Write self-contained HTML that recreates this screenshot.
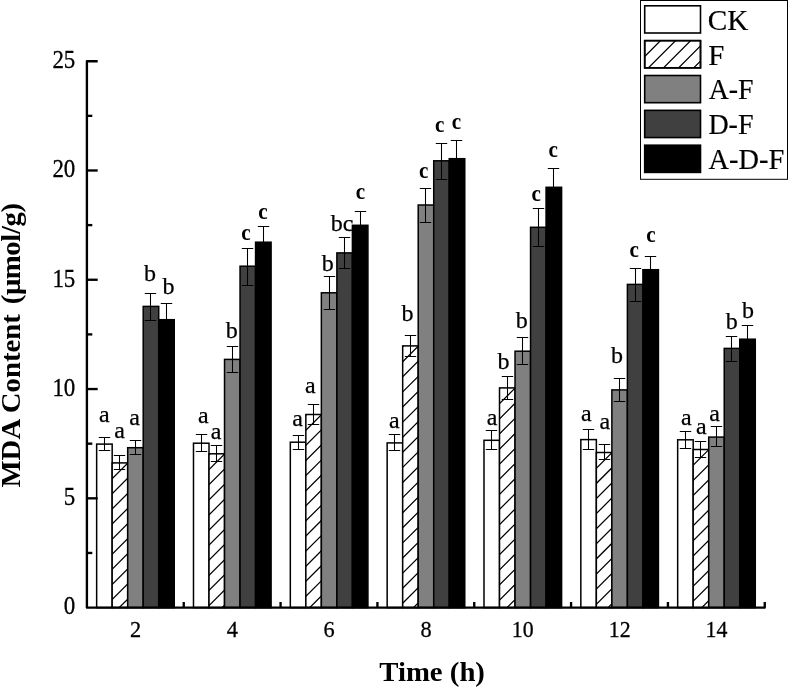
<!DOCTYPE html>
<html lang="en">
<head>
<meta charset="utf-8">
<title>MDA Content vs Time</title>
<style>
html,body{margin:0;padding:0;background:#fff;}
body{width:788px;height:687px;overflow:hidden;}
svg{display:block;will-change:transform;}
text{font-family:"Liberation Serif","Times New Roman",serif;fill:#000;}
.tk{font-size:24px;stroke:#000;stroke-width:0.3px;}
.lt{font-size:24px;stroke:#000;stroke-width:0.25px;}
.lg{font-size:29px;stroke:#000;stroke-width:0.2px;}
.ti{font-size:27.4px;font-weight:bold;}
.b{font-weight:bold;stroke:none;font-size:23.5px;}
</style>
</head>
<body>
<svg width="788" height="687" viewBox="0 0 788 687">
<rect x="0" y="0" width="788" height="687" fill="#fff"/>
<g stroke="#000" stroke-width="1.5">
<rect x="96.65" y="444.10" width="15.52" height="163.50" fill="#ffffff"/>
<rect x="112.17" y="462.90" width="15.52" height="144.70" fill="#ffffff"/>
<rect x="127.69" y="447.70" width="15.52" height="159.90" fill="#808080"/>
<rect x="143.21" y="306.40" width="15.52" height="301.20" fill="#404040"/>
<rect x="158.73" y="319.70" width="15.52" height="287.90" fill="#000000"/>
<rect x="193.49" y="443.20" width="15.52" height="164.40" fill="#ffffff"/>
<rect x="209.01" y="453.80" width="15.52" height="153.80" fill="#ffffff"/>
<rect x="224.53" y="359.40" width="15.52" height="248.20" fill="#808080"/>
<rect x="240.05" y="266.20" width="15.52" height="341.40" fill="#404040"/>
<rect x="255.57" y="242.20" width="15.52" height="365.40" fill="#000000"/>
<rect x="290.32" y="442.20" width="15.52" height="165.40" fill="#ffffff"/>
<rect x="305.84" y="414.50" width="15.52" height="193.10" fill="#ffffff"/>
<rect x="321.36" y="292.80" width="15.52" height="314.80" fill="#808080"/>
<rect x="336.88" y="252.90" width="15.52" height="354.70" fill="#404040"/>
<rect x="352.40" y="225.30" width="15.52" height="382.30" fill="#000000"/>
<rect x="387.16" y="442.90" width="15.52" height="164.70" fill="#ffffff"/>
<rect x="402.68" y="345.90" width="15.52" height="261.70" fill="#ffffff"/>
<rect x="418.20" y="205.00" width="15.52" height="402.60" fill="#808080"/>
<rect x="433.72" y="160.80" width="15.52" height="446.80" fill="#404040"/>
<rect x="449.24" y="158.70" width="15.52" height="448.90" fill="#000000"/>
<rect x="483.99" y="440.30" width="15.52" height="167.30" fill="#ffffff"/>
<rect x="499.51" y="387.90" width="15.52" height="219.70" fill="#ffffff"/>
<rect x="515.03" y="351.20" width="15.52" height="256.40" fill="#808080"/>
<rect x="530.55" y="227.30" width="15.52" height="380.30" fill="#404040"/>
<rect x="546.07" y="187.30" width="15.52" height="420.30" fill="#000000"/>
<rect x="580.83" y="439.60" width="15.52" height="168.00" fill="#ffffff"/>
<rect x="596.35" y="452.50" width="15.52" height="155.10" fill="#ffffff"/>
<rect x="611.87" y="389.90" width="15.52" height="217.70" fill="#808080"/>
<rect x="627.39" y="284.40" width="15.52" height="323.20" fill="#404040"/>
<rect x="642.91" y="269.70" width="15.52" height="337.90" fill="#000000"/>
<rect x="677.67" y="439.80" width="15.52" height="167.80" fill="#ffffff"/>
<rect x="693.19" y="449.50" width="15.52" height="158.10" fill="#ffffff"/>
<rect x="708.71" y="437.10" width="15.52" height="170.50" fill="#808080"/>
<rect x="724.23" y="348.40" width="15.52" height="259.20" fill="#404040"/>
<rect x="739.75" y="339.20" width="15.52" height="268.40" fill="#000000"/>
</g>
<clipPath id="c1"><rect x="112.17" y="462.90" width="15.52" height="144.70"/></clipPath>
<path clip-path="url(#c1)" d="M111.17,464.60 L128.69,447.08 M111.17,479.70 L128.69,462.18 M111.17,494.80 L128.69,477.28 M111.17,509.90 L128.69,492.38 M111.17,525.00 L128.69,507.48 M111.17,540.10 L128.69,522.58 M111.17,555.20 L128.69,537.68 M111.17,570.30 L128.69,552.78 M111.17,585.40 L128.69,567.88 M111.17,600.50 L128.69,582.98 M111.17,615.60 L128.69,598.08" stroke="#000" stroke-width="1.25" fill="none"/>
<clipPath id="c2"><rect x="209.01" y="453.80" width="15.52" height="153.80"/></clipPath>
<path clip-path="url(#c2)" d="M208.01,455.50 L225.53,437.98 M208.01,470.60 L225.53,453.08 M208.01,485.70 L225.53,468.18 M208.01,500.80 L225.53,483.28 M208.01,515.90 L225.53,498.38 M208.01,531.00 L225.53,513.48 M208.01,546.10 L225.53,528.58 M208.01,561.20 L225.53,543.68 M208.01,576.30 L225.53,558.78 M208.01,591.40 L225.53,573.88 M208.01,606.50 L225.53,588.98 M208.01,621.60 L225.53,604.08" stroke="#000" stroke-width="1.25" fill="none"/>
<clipPath id="c3"><rect x="305.84" y="414.50" width="15.52" height="193.10"/></clipPath>
<path clip-path="url(#c3)" d="M304.84,416.20 L322.36,398.68 M304.84,431.30 L322.36,413.78 M304.84,446.40 L322.36,428.88 M304.84,461.50 L322.36,443.98 M304.84,476.60 L322.36,459.08 M304.84,491.70 L322.36,474.18 M304.84,506.80 L322.36,489.28 M304.84,521.90 L322.36,504.38 M304.84,537.00 L322.36,519.48 M304.84,552.10 L322.36,534.58 M304.84,567.20 L322.36,549.68 M304.84,582.30 L322.36,564.78 M304.84,597.40 L322.36,579.88 M304.84,612.50 L322.36,594.98" stroke="#000" stroke-width="1.25" fill="none"/>
<clipPath id="c4"><rect x="402.68" y="345.90" width="15.52" height="261.70"/></clipPath>
<path clip-path="url(#c4)" d="M401.68,347.60 L419.20,330.08 M401.68,362.70 L419.20,345.18 M401.68,377.80 L419.20,360.28 M401.68,392.90 L419.20,375.38 M401.68,408.00 L419.20,390.48 M401.68,423.10 L419.20,405.58 M401.68,438.20 L419.20,420.68 M401.68,453.30 L419.20,435.78 M401.68,468.40 L419.20,450.88 M401.68,483.50 L419.20,465.98 M401.68,498.60 L419.20,481.08 M401.68,513.70 L419.20,496.18 M401.68,528.80 L419.20,511.28 M401.68,543.90 L419.20,526.38 M401.68,559.00 L419.20,541.48 M401.68,574.10 L419.20,556.58 M401.68,589.20 L419.20,571.68 M401.68,604.30 L419.20,586.78 M401.68,619.40 L419.20,601.88" stroke="#000" stroke-width="1.25" fill="none"/>
<clipPath id="c5"><rect x="499.51" y="387.90" width="15.52" height="219.70"/></clipPath>
<path clip-path="url(#c5)" d="M498.51,389.60 L516.03,372.08 M498.51,404.70 L516.03,387.18 M498.51,419.80 L516.03,402.28 M498.51,434.90 L516.03,417.38 M498.51,450.00 L516.03,432.48 M498.51,465.10 L516.03,447.58 M498.51,480.20 L516.03,462.68 M498.51,495.30 L516.03,477.78 M498.51,510.40 L516.03,492.88 M498.51,525.50 L516.03,507.98 M498.51,540.60 L516.03,523.08 M498.51,555.70 L516.03,538.18 M498.51,570.80 L516.03,553.28 M498.51,585.90 L516.03,568.38 M498.51,601.00 L516.03,583.48 M498.51,616.10 L516.03,598.58" stroke="#000" stroke-width="1.25" fill="none"/>
<clipPath id="c6"><rect x="596.35" y="452.50" width="15.52" height="155.10"/></clipPath>
<path clip-path="url(#c6)" d="M595.35,454.20 L612.87,436.68 M595.35,469.30 L612.87,451.78 M595.35,484.40 L612.87,466.88 M595.35,499.50 L612.87,481.98 M595.35,514.60 L612.87,497.08 M595.35,529.70 L612.87,512.18 M595.35,544.80 L612.87,527.28 M595.35,559.90 L612.87,542.38 M595.35,575.00 L612.87,557.48 M595.35,590.10 L612.87,572.58 M595.35,605.20 L612.87,587.68 M595.35,620.30 L612.87,602.78" stroke="#000" stroke-width="1.25" fill="none"/>
<clipPath id="c7"><rect x="693.19" y="449.50" width="15.52" height="158.10"/></clipPath>
<path clip-path="url(#c7)" d="M692.19,451.20 L709.71,433.68 M692.19,466.30 L709.71,448.78 M692.19,481.40 L709.71,463.88 M692.19,496.50 L709.71,478.98 M692.19,511.60 L709.71,494.08 M692.19,526.70 L709.71,509.18 M692.19,541.80 L709.71,524.28 M692.19,556.90 L709.71,539.38 M692.19,572.00 L709.71,554.48 M692.19,587.10 L709.71,569.58 M692.19,602.20 L709.71,584.68 M692.19,617.30 L709.71,599.78" stroke="#000" stroke-width="1.25" fill="none"/>
<g stroke="#000" stroke-width="1.05" fill="none">
<path d="M104.50,437.50 V450.50 M98.80,437.50 H110.20 M98.80,450.50 H110.20"/>
<path d="M119.50,455.50 V469.50 M113.80,455.50 H125.20 M113.80,469.50 H125.20"/>
<path d="M135.50,440.50 V454.50 M129.80,440.50 H141.20 M129.80,454.50 H141.20"/>
<path d="M150.50,293.50 V320.50 M144.80,293.50 H156.20 M144.80,320.50 H156.20"/>
<path d="M166.50,303.50 V337.50 M160.80,303.50 H172.20 M160.80,337.50 H172.20"/>
<path d="M201.50,434.50 V451.50 M195.80,434.50 H207.20 M195.80,451.50 H207.20"/>
<path d="M216.50,445.50 V461.50 M210.80,445.50 H222.20 M210.80,461.50 H222.20"/>
<path d="M232.50,346.50 V372.50 M226.80,346.50 H238.20 M226.80,372.50 H238.20"/>
<path d="M247.50,248.50 V285.50 M241.80,248.50 H253.20 M241.80,285.50 H253.20"/>
<path d="M263.50,226.50 V259.50 M257.80,226.50 H269.20 M257.80,259.50 H269.20"/>
<path d="M298.50,435.50 V449.50 M292.80,435.50 H304.20 M292.80,449.50 H304.20"/>
<path d="M313.50,404.50 V424.50 M307.80,404.50 H319.20 M307.80,424.50 H319.20"/>
<path d="M329.50,276.50 V309.50 M323.80,276.50 H335.20 M323.80,309.50 H335.20"/>
<path d="M344.50,237.50 V268.50 M338.80,237.50 H350.20 M338.80,268.50 H350.20"/>
<path d="M360.50,211.50 V240.50 M354.80,211.50 H366.20 M354.80,240.50 H366.20"/>
<path d="M394.50,434.50 V450.50 M388.80,434.50 H400.20 M388.80,450.50 H400.20"/>
<path d="M410.50,335.50 V356.50 M404.80,335.50 H416.20 M404.80,356.50 H416.20"/>
<path d="M425.50,188.50 V222.50 M419.80,188.50 H431.20 M419.80,222.50 H431.20"/>
<path d="M441.50,143.50 V179.50 M435.80,143.50 H447.20 M435.80,179.50 H447.20"/>
<path d="M456.50,140.50 V178.50 M450.80,140.50 H462.20 M450.80,178.50 H462.20"/>
<path d="M491.50,430.50 V449.50 M485.80,430.50 H497.20 M485.80,449.50 H497.20"/>
<path d="M507.50,376.50 V399.50 M501.80,376.50 H513.20 M501.80,399.50 H513.20"/>
<path d="M522.50,337.50 V364.50 M516.80,337.50 H528.20 M516.80,364.50 H528.20"/>
<path d="M538.50,208.50 V246.50 M532.80,208.50 H544.20 M532.80,246.50 H544.20"/>
<path d="M553.50,168.50 V208.50 M547.80,168.50 H559.20 M547.80,208.50 H559.20"/>
<path d="M588.50,429.50 V449.50 M582.80,429.50 H594.20 M582.80,449.50 H594.20"/>
<path d="M604.50,444.50 V459.50 M598.80,444.50 H610.20 M598.80,459.50 H610.20"/>
<path d="M619.50,378.50 V401.50 M613.80,378.50 H625.20 M613.80,401.50 H625.20"/>
<path d="M635.50,268.50 V301.50 M629.80,268.50 H641.20 M629.80,301.50 H641.20"/>
<path d="M650.50,256.50 V284.50 M644.80,256.50 H656.20 M644.80,284.50 H656.20"/>
<path d="M685.50,431.50 V448.50 M679.80,431.50 H691.20 M679.80,448.50 H691.20"/>
<path d="M700.50,441.50 V457.50 M694.80,441.50 H706.20 M694.80,457.50 H706.20"/>
<path d="M716.50,426.50 V446.50 M710.80,426.50 H722.20 M710.80,446.50 H722.20"/>
<path d="M731.50,336.50 V361.50 M725.80,336.50 H737.20 M725.80,361.50 H737.20"/>
<path d="M747.50,325.50 V354.50 M741.80,325.50 H753.20 M741.80,354.50 H753.20"/>
</g>
<g stroke="#000" stroke-width="2.35" fill="none" stroke-linejoin="round" stroke-linecap="butt">
<path d="M97.70,61.20 H86.90 V607.60 H764.75 V602.00"/>
<path d="M86.90,498.32 h10.8"/>
<path d="M86.90,389.04 h10.8"/>
<path d="M86.90,279.76 h10.8"/>
<path d="M86.90,170.48 h10.8"/>
<path d="M86.90,552.96 h5.4"/>
<path d="M86.90,443.68 h5.4"/>
<path d="M86.90,334.40 h5.4"/>
<path d="M86.90,225.12 h5.4"/>
<path d="M86.90,115.84 h5.4"/>
<path d="M183.74,607.60 v-5.6"/>
<path d="M280.57,607.60 v-5.6"/>
<path d="M377.41,607.60 v-5.6"/>
<path d="M474.24,607.60 v-5.6"/>
<path d="M571.08,607.60 v-5.6"/>
<path d="M667.92,607.60 v-5.6"/>
</g>
<text class="tk" transform="translate(75.3,614.40) scale(0.955,1.02)" text-anchor="end">0</text>
<text class="tk" transform="translate(75.3,505.12) scale(0.955,1.02)" text-anchor="end">5</text>
<text class="tk" transform="translate(75.3,395.84) scale(0.955,1.02)" text-anchor="end">10</text>
<text class="tk" transform="translate(75.3,286.56) scale(0.955,1.02)" text-anchor="end">15</text>
<text class="tk" transform="translate(75.3,177.28) scale(0.955,1.02)" text-anchor="end">20</text>
<text class="tk" transform="translate(75.3,68.00) scale(0.955,1.02)" text-anchor="end">25</text>
<text class="tk" transform="translate(135.45,637.15) scale(0.93,0.98)" text-anchor="middle">2</text>
<text class="tk" transform="translate(232.29,637.15) scale(0.93,0.98)" text-anchor="middle">4</text>
<text class="tk" transform="translate(329.12,637.15) scale(0.93,0.98)" text-anchor="middle">6</text>
<text class="tk" transform="translate(425.96,637.15) scale(0.93,0.98)" text-anchor="middle">8</text>
<text class="tk" transform="translate(522.79,637.15) scale(0.91,0.98)" text-anchor="middle">10</text>
<text class="tk" transform="translate(619.63,637.15) scale(0.91,0.98)" text-anchor="middle">12</text>
<text class="tk" transform="translate(716.47,637.15) scale(0.91,0.98)" text-anchor="middle">14</text>
<text class="lt" x="104.30" y="422.10" text-anchor="middle">a</text>
<text class="lt" x="119.70" y="438.30" text-anchor="middle">a</text>
<text class="lt" x="134.50" y="424.90" text-anchor="middle">a</text>
<text class="lt" x="150.00" y="281.00" text-anchor="middle">b</text>
<text class="lt" x="168.60" y="293.60" text-anchor="middle">b</text>
<text class="lt" x="203.30" y="423.30" text-anchor="middle">a</text>
<text class="lt" x="216.00" y="439.20" text-anchor="middle">a</text>
<text class="lt" x="231.80" y="337.70" text-anchor="middle">b</text>
<text class="lt b" transform="translate(245.90,239.90) scale(0.9,1)" text-anchor="middle">c</text>
<text class="lt b" transform="translate(262.90,219.00) scale(0.9,1)" text-anchor="middle">c</text>
<text class="lt" x="297.70" y="426.30" text-anchor="middle">a</text>
<text class="lt" x="310.40" y="393.30" text-anchor="middle">a</text>
<text class="lt" x="327.80" y="271.30" text-anchor="middle">b</text>
<text class="lt" x="342.10" y="230.70" text-anchor="middle">bc</text>
<text class="lt b" transform="translate(360.40,199.00) scale(0.9,1)" text-anchor="middle">c</text>
<text class="lt" x="394.30" y="428.20" text-anchor="middle">a</text>
<text class="lt" x="407.60" y="321.00" text-anchor="middle">b</text>
<text class="lt b" transform="translate(423.70,178.20) scale(0.9,1)" text-anchor="middle">c</text>
<text class="lt b" transform="translate(439.60,132.20) scale(0.9,1)" text-anchor="middle">c</text>
<text class="lt b" transform="translate(456.50,128.70) scale(0.9,1)" text-anchor="middle">c</text>
<text class="lt" x="492.00" y="424.70" text-anchor="middle">a</text>
<text class="lt" x="503.40" y="369.00" text-anchor="middle">b</text>
<text class="lt" x="521.80" y="328.20" text-anchor="middle">b</text>
<text class="lt b" transform="translate(536.20,200.70) scale(0.9,1)" text-anchor="middle">c</text>
<text class="lt b" transform="translate(553.10,156.50) scale(0.9,1)" text-anchor="middle">c</text>
<text class="lt" x="586.40" y="421.00" text-anchor="middle">a</text>
<text class="lt" x="604.80" y="428.60" text-anchor="middle">a</text>
<text class="lt" x="616.90" y="363.40" text-anchor="middle">b</text>
<text class="lt b" transform="translate(634.30,256.70) scale(0.9,1)" text-anchor="middle">c</text>
<text class="lt b" transform="translate(650.90,241.50) scale(0.9,1)" text-anchor="middle">c</text>
<text class="lt" x="686.30" y="424.80" text-anchor="middle">a</text>
<text class="lt" x="701.40" y="433.60" text-anchor="middle">a</text>
<text class="lt" x="714.50" y="421.00" text-anchor="middle">a</text>
<text class="lt" x="731.70" y="328.70" text-anchor="middle">b</text>
<text class="lt" x="747.90" y="317.60" text-anchor="middle">b</text>
<text class="ti" transform="translate(432.1,681) scale(1.05,1)" text-anchor="middle">Time (h)</text>
<text class="ti" transform="translate(20.3,345.4) rotate(-90) scale(1.05,1)" text-anchor="middle">MDA Content <tspan dx="2.6" letter-spacing="-0.37">(μmol/g)</tspan></text>
<rect x="640.5" y="0.5" width="147" height="178.8" fill="#fff" stroke="#000" stroke-width="1"/>
<rect x="644.7" y="5.80" width="55.8" height="27.2" fill="#ffffff" stroke="#000" stroke-width="1.6"/>
<text class="lg" transform="translate(707.70,30.00) scale(1.0078,1.0000)">CK</text>
<rect x="644.7" y="40.65" width="55.8" height="27.2" fill="#ffffff" stroke="#000" stroke-width="1.6"/>
<clipPath id="c8"><rect x="644.70" y="40.65" width="55.80" height="27.20"/></clipPath>
<path clip-path="url(#c8)" d="M643.70,42.35 L701.50,-15.45 M643.70,57.45 L701.50,-0.35 M643.70,72.55 L701.50,14.75 M643.70,87.65 L701.50,29.85 M643.70,102.75 L701.50,44.95 M643.70,117.85 L701.50,60.05" stroke="#000" stroke-width="1.25" fill="none"/>
<rect x="644.7" y="40.65" width="55.8" height="27.2" fill="none" stroke="#000" stroke-width="1.6"/>
<text class="lg" transform="translate(708.37,64.80) scale(0.9968,1.0000)">F</text>
<rect x="644.7" y="75.50" width="55.8" height="27.2" fill="#808080" stroke="#000" stroke-width="1.6"/>
<text class="lg" transform="translate(708.63,99.30) scale(0.9604,1.0000)">A-F</text>
<rect x="644.7" y="110.35" width="55.8" height="27.2" fill="#404040" stroke="#000" stroke-width="1.6"/>
<text class="lg" transform="translate(708.39,134.20) scale(0.9655,1.0000)">D-F</text>
<rect x="644.7" y="145.20" width="55.8" height="27.2" fill="#000000" stroke="#000" stroke-width="1.6"/>
<text class="lg" transform="translate(708.62,168.90) scale(0.9790,1.0000)">A-D-F</text>
</svg>
</body>
</html>
